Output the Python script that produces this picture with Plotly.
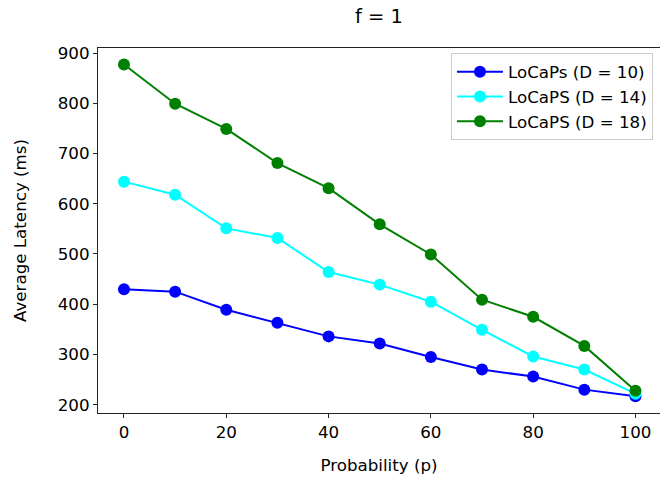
import plotly.graph_objects as go

p = [0, 10, 20, 30, 40, 50, 60, 70, 80, 90, 100]
d10 = [430, 425, 389, 363, 336, 322, 295, 270, 256, 230, 217]
d14 = [644, 618, 551, 532, 464, 439, 405, 349, 296, 270, 222]
d18 = [877, 799, 749, 681, 631, 559, 499, 409, 375, 317, 228]
names = ["LoCaPs (D = 10)", "LoCaPS (D = 14)", "LoCaPS (D = 18)"]
colors = ["#0000ff", "#00ffff", "#008000"]

fig = go.Figure()
for ys, n, c in zip([d10, d14, d18], names, colors):
    fig.add_trace(go.Scatter(x=p, y=ys, name=n, mode="lines+markers",
                             line=dict(color=c, width=2),
                             marker=dict(color=c, size=12)))

font = "DejaVu Sans, Arial, sans-serif"
fs = 16.7
fig.update_layout(
    width=660, height=482,
    margin=dict(l=98, r=0, t=48, b=69),
    paper_bgcolor="white", plot_bgcolor="white",
    font=dict(family=font, size=fs, color="black"),
    title=dict(text="f = 1", x=0.5, xref="paper", y=1 - 16 / 482, yref="container",
               xanchor="center", yanchor="middle", font=dict(size=19.5)),
    showlegend=True,
    legend=dict(x=0.9875, y=0.985, xanchor="right", yanchor="top",
                bgcolor="rgba(255,255,255,0.8)", bordercolor="#cccccc", borderwidth=1,
                font=dict(size=fs), tracegroupgap=0, itemwidth=46),
    xaxis=dict(range=[-5.08, 104.8], tickvals=[0, 20, 40, 60, 80, 100],
               showgrid=False, zeroline=False, showline=True, linecolor="#222",
               linewidth=1.2, mirror=True, ticks="outside", ticklen=4, tickcolor="#222",
               tickfont=dict(size=fs),
               title=dict(text="Probability (p)", standoff=18, font=dict(size=fs))),
    yaxis=dict(range=[183.5, 910], tickvals=[200, 300, 400, 500, 600, 700, 800, 900],
               showgrid=False, zeroline=False, showline=True, linecolor="#222",
               linewidth=1.2, mirror=True, ticks="outside", ticklen=4, tickcolor="#222",
               tickfont=dict(size=fs),
               title=dict(text="Average Latency (ms)", standoff=26, font=dict(size=fs))),
)

fig.write_html("out.html", config={"displayModeBar": False},
               post_script="document.body.style.margin='0';document.body.style.overflow='hidden';")
